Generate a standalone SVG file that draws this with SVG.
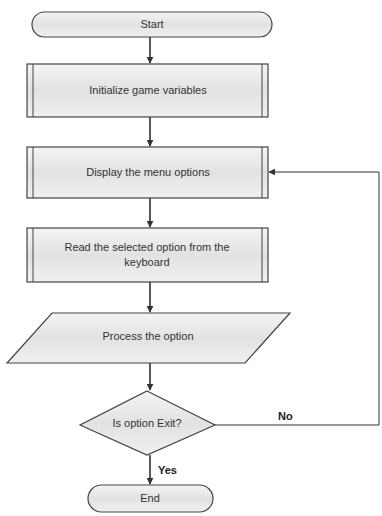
<svg xmlns="http://www.w3.org/2000/svg" width="382" height="516" viewBox="0 0 382 516">
<defs>
<linearGradient id="g" x1="0" y1="0" x2="0" y2="1">
<stop offset="0" stop-color="#f4f4f4"/>
<stop offset="0.5" stop-color="#e2e2e2"/>
<stop offset="1" stop-color="#f0f0f0"/>
</linearGradient>
<marker id="arr" viewBox="0 0 10 10" refX="9" refY="5" markerWidth="7" markerHeight="7" orient="auto-start-reverse" markerUnits="userSpaceOnUse">
<path d="M0,0 L10,5 L0,10 z" fill="#333"/>
</marker>
</defs>
<style>
.shape{fill:url(#g);stroke:#444;stroke-width:1.2}
.bar{stroke:#444;stroke-width:1}
.t{font-family:"Liberation Sans",Arial,sans-serif;font-size:11px;fill:#333;text-anchor:middle;dominant-baseline:middle}
.lbl{font-family:"Liberation Sans",Arial,sans-serif;font-size:11px;fill:#222;font-weight:bold}
.c{fill:none;stroke:#222;stroke-width:1.5}
.cl{fill:none;stroke:#333;stroke-width:1}
</style>
<rect width="382" height="516" fill="#ffffff"/>
<g id="connectors">
<line class="c" x1="150" y1="37" x2="150" y2="63" marker-end="url(#arr)"/>
<line class="c" x1="150" y1="117" x2="150" y2="146" marker-end="url(#arr)"/>
<line class="c" x1="150" y1="198" x2="150" y2="227" marker-end="url(#arr)"/>
<line class="c" x1="150" y1="282" x2="150" y2="312" marker-end="url(#arr)"/>
<line class="c" x1="150" y1="363" x2="150" y2="390" marker-end="url(#arr)"/>
<line class="c" x1="150" y1="455" x2="150" y2="484" marker-end="url(#arr)"/>
<polyline class="cl" points="215,425 379,425 379,172 269,172" marker-end="url(#arr)"/>
<text class="lbl" x="278" y="420">No</text>
<text class="lbl" x="158" y="474">Yes</text>
</g>
<g id="start">
<rect class="shape" x="32" y="12" width="240" height="25" rx="12.5" ry="12.5"/>
<text class="t" x="152" y="25">Start</text>
</g>
<g id="init">
<rect class="shape" x="27" y="64" width="241" height="53"/>
<line class="bar" x1="33" y1="64" x2="33" y2="117"/>
<line class="bar" x1="262" y1="64" x2="262" y2="117"/>
<text class="t" x="148" y="91">Initialize game variables</text>
</g>
<g id="display">
<rect class="shape" x="27" y="147" width="241" height="51"/>
<line class="bar" x1="33" y1="147" x2="33" y2="198"/>
<line class="bar" x1="262" y1="147" x2="262" y2="198"/>
<text class="t" x="148" y="173">Display the menu options</text>
</g>
<g id="read">
<rect class="shape" x="27" y="228" width="241" height="54"/>
<line class="bar" x1="33" y1="228" x2="33" y2="282"/>
<line class="bar" x1="262" y1="228" x2="262" y2="282"/>
<text class="t" x="147" y="248">Read the selected option from the</text>
<text class="t" x="147" y="263">keyboard</text>
</g>
<g id="process">
<polygon class="shape" points="52,313 290,313 245,363 7,363"/>
<text class="t" x="148" y="337">Process the option</text>
</g>
<g id="decision">
<polygon class="shape" points="147,391 215,425 147,455 80,425"/>
<text class="t" x="147" y="424">Is option Exit?</text>
</g>
<g id="end">
<rect class="shape" x="88" y="485" width="125" height="27" rx="13.5" ry="13.5"/>
<text class="t" x="150" y="499">End</text>
</g>
</svg>
